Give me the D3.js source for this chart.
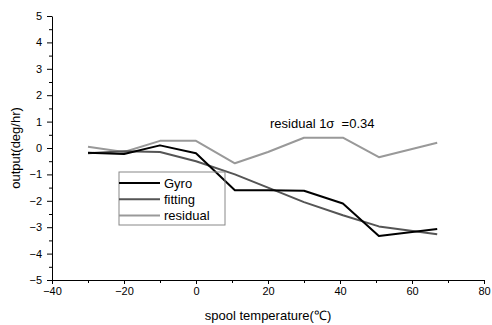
<!DOCTYPE html>
<html>
<head>
<meta charset="utf-8">
<script src="https://cdn.jsdelivr.net/npm/d3@7"></script>
<style>
  body { margin: 0; background: #fff; }
  text { font-family: Arial, "Liberation Sans", sans-serif; }
</style>
</head>
<body>
<div id="chart"></div>
<script>
// spool temperature (C)
const temps = [-30, -20, -10, 0, 10.8, 20, 30, 40.8, 50.8, 67]
const gyro = [-0.18, -0.23, 0.1, -0.2, -1.6, -1.6, -1.62, -2.1, -3.33, -3.07]
const fitting = [-0.2, -0.12, -0.15, -0.5, -1.0, -1.5, -2.05, -2.55, -2.97, -3.27]
const residual = [0.05, -0.15, 0.27, 0.27, -0.58, -0.15, 0.39, 0.39, -0.35, 0.2]

const xTicks = [-40, -20, 0, 20, 40, 60, 80]
const yTicks = [-5, -4, -3, -2, -1, 0, 1, 2, 3, 4, 5]

const series = [
  { name: "Gyro", values: gyro, color: "#000" },
  { name: "fitting", values: fitting, color: "#555" },
  { name: "residual", values: residual, color: "#999" }
]

const width = 492
const height = 325
const margin = { top: 16, right: 8, bottom: 45, left: 52 }

const svg = d3.select("#chart").append("svg")
  .attr("width", width)
  .attr("height", height)

const x = d3.scaleLinear().domain([-40, 80]).range([margin.left, 484])
const y = d3.scaleLinear().domain([-5, 5]).range([280, margin.top])

// axes
const xAxis = svg.append("g")
  .attr("transform", `translate(0,${y(-5)})`)
  .call(d3.axisBottom(x).tickValues(xTicks).tickSize(4).tickPadding(3).tickSizeOuter(0))
xAxis.selectAll("g.tick").filter((d, i) => i > 0)
  .append("line").attr("x1", -36).attr("x2", -36).attr("y2", 3).attr("stroke", "#000")
xAxis.selectAll("text").attr("font-size", 11).attr("fill", "#000")

const yAxis = svg.append("g")
  .attr("transform", `translate(${x(-40)},0)`)
  .call(d3.axisLeft(y).tickValues(yTicks).tickSize(5).tickPadding(5).tickSizeOuter(0))
yAxis.selectAll("g.tick").filter((d, i) => i > 0)
  .append("line").attr("x1", -3).attr("y1", 13.2).attr("y2", 13.2).attr("stroke", "#000")
yAxis.selectAll("text").attr("font-size", 11).attr("fill", "#000")
svg.selectAll(".domain").attr("stroke", "#000")

// lines
const line = d3.line()
  .x((d, i) => x(temps[i]))
  .y(d => y(d))

svg.append("g")
  .selectAll("path")
  .data(series.slice().reverse())
  .join("path")
  .attr("fill", "none")
  .attr("stroke", d => d.color)
  .attr("stroke-width", 2)
  .attr("stroke-linejoin", "round")
  .attr("d", d => line(d.values))

// legend
const legend = svg.append("g").attr("transform", "translate(119,172)")
legend.append("rect")
  .attr("width", 106)
  .attr("height", 53)
  .attr("fill", "none")
  .attr("stroke", "#888")
  .attr("stroke-width", 1)
const rows = legend.selectAll("g.row")
  .data(series)
  .join("g")
  .attr("transform", (d, i) => `translate(0,${11 + i * 16.3})`)
rows.append("line")
  .attr("x1", 0).attr("x2", 41)
  .attr("stroke", d => d.color)
  .attr("stroke-width", 2)
rows.append("text")
  .attr("x", 45)
  .attr("dy", "0.36em")
  .attr("font-size", 13)
  .text(d => d.name)

// annotation
svg.append("text")
  .attr("x", 270)
  .attr("y", 128)
  .attr("font-size", 13)
  .attr("xml:space", "preserve")
  .text("residual 1σ  =0.34")

// axis titles
svg.append("text")
  .attr("x", (x(-40) + x(80)) / 2)
  .attr("y", 320)
  .attr("text-anchor", "middle")
  .attr("font-size", 13)
  .text("spool temperature(℃)")

svg.append("text")
  .attr("transform", `translate(20,${y(0)}) rotate(-90)`)
  .attr("text-anchor", "middle")
  .attr("font-size", 13)
  .text("output(deg/hr)")
</script>
</body>
</html>
